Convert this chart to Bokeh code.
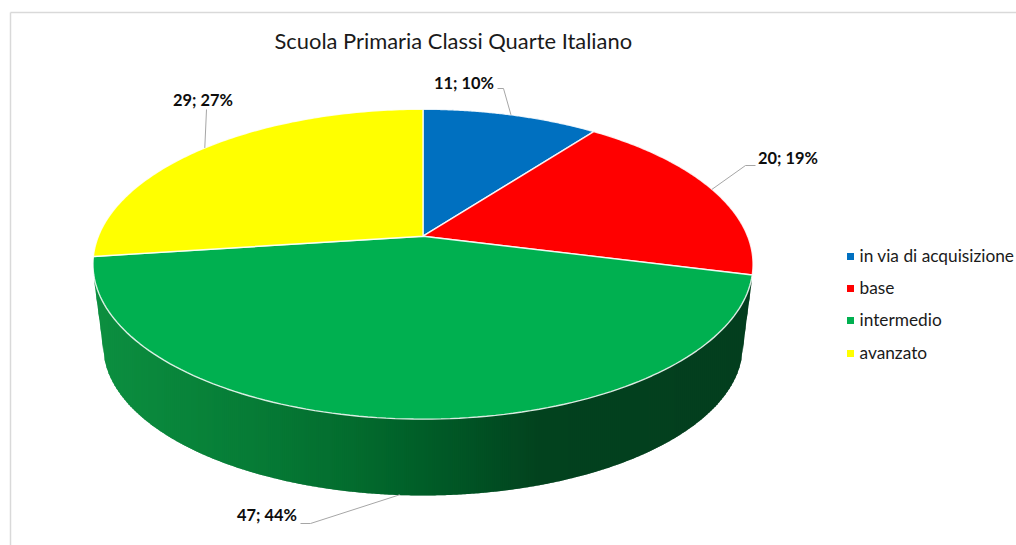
import numpy as np
from bokeh.plotting import figure
from bokeh.models import Range1d
from bokeh.core.properties import value
from bokeh.embed import file_html
from bokeh.resources import INLINE

categories = ["in via di acquisizione", "base", "intermedio", "avanzato"]
counts = [11, 20, 47, 29]
percent_labels = ["10%", "19%", "44%", "27%"]
colors = ["#0070C0", "#FF0000", "#00B050", "#FFFF00"]
title_text = "Scuola Primaria Classi Quarte Italiano"

W, H = 1016, 545
CX, CY = 422.5, 235.7
A, B, K = 149.9, 324.6, 0.1806
DEPTH = 76.0


def project(deg):
    t = np.radians(deg)
    u, v = np.sin(t), np.cos(t)
    w = 1 + K * v
    return CX + B * u / w, CY - A * v / w


p = figure(width=W, height=H, x_range=Range1d(0, W), y_range=Range1d(H, 0),
           output_backend="svg", toolbar_location=None, min_border=0,
           outline_line_color=None, background_fill_color="white", border_fill_color="white")
p.axis.visible = False
p.grid.visible = False

# chart frame
p.segment(x0=[10, 10], y0=[12, 12], x1=[W, 10], y1=[12, H],
          line_color="#d9d9d9", line_width=1.5)

# side wall with a horizontal shading
stops_x = [93, 250, 350, 420, 540, 752]
stops_c = np.array([[12, 143, 64], [6, 124, 54], [3, 108, 46], [0, 94, 40], [2, 66, 30], [3, 62, 30]], float)
TOP_E = (422.5, 263.7, 329.6, 155.0)
LOW_E = (422.5, 345.0, 320.0, 150.0)


def rim(x, e):
    c, m, rx, ry = e
    return m + ry * np.sqrt(np.clip(1 - ((x - c) / rx) ** 2, 0, 1))


def wall_bottom(x):
    if x < 103:
        return 283 + (x - 94) * (350 - 283) / (103 - 94)
    if x > 742:
        return 283 + (751 - x) * (350 - 283) / (751 - 742)
    return rim(x, LOW_E)


xs_w, ys_w, cs_w = [], [], []
edges = np.arange(94, 750, 2.0)
for x0 in edges:
    x1 = x0 + 3
    xx = [x0, x1, x1, x0]
    y_t0, y_t1 = rim(x0, TOP_E), rim(x1, TOP_E)
    y_b0, y_b1 = wall_bottom(x0), wall_bottom(min(x1, 751))
    xs_w.append(xx)
    ys_w.append([y_t0 - 1, y_t1 - 1, y_b1, y_b0])
    rgb = [np.interp(x0, stops_x, stops_c[:, i]) for i in range(3)]
    cs_w.append("#%02x%02x%02x" % tuple(int(round(c)) for c in rgb))
p.patches(xs_w, ys_w, fill_color=cs_w, line_color=None)

# top face
total = sum(counts)
cum = np.cumsum([0] + counts) / total * 360.0
mids = []
for i, col in enumerate(colors):
    angs = np.linspace(cum[i], cum[i + 1], 120)
    px, py = project(angs)
    p.patch(np.r_[CX, px], np.r_[CY, py], fill_color=col,
            line_color="#ffffff", line_width=1.4, line_alpha=0.85)
    mids.append((cum[i] + cum[i + 1]) / 2)

# data labels and leaders
label_pos = [(433.5, 81.5), (757.5, 156.5), (236.5, 513.5), (172.5, 98.5)]
elbows = [[(497, 88), (503, 88)], [(755, 165), (745, 165)], [(300, 523), (310, 523)], [(206, 109)]]
drops = [0, 0, DEPTH, 0]
for i in range(4):
    ax, ay = project(mids[i])
    ex = [e[0] for e in elbows[i]] + [float(ax)]
    ey = [e[1] for e in elbows[i]] + [float(ay) + drops[i]]
    p.line(ex, ey, line_color="#a6a6a6", line_width=1)
    p.text([label_pos[i][0]], [label_pos[i][1]], text=[f"{counts[i]}; {percent_labels[i]}"],
           text_font=value("Lato"), text_font_style="bold", text_font_size="16.4px",
           text_color="#0d0d0d", text_align="left", text_baseline="middle")

# title
p.text([274], [39.5], text=[title_text], text_font=value("Lato"), text_font_size="21.9px",
       text_color="#1a1a1a", text_align="left", text_baseline="middle")

# legend
leg_y = [255, 287, 319, 352]
p.scatter([850] * 4, [256, 288, 320, 353], marker="square", size=7, fill_color=colors, line_color=None)
p.text([859] * 4, leg_y, text=categories, text_font=value("Lato"), text_font_size="17.3px",
       text_color="#1a1a1a", text_align="left", text_baseline="middle")

open("out.html", "w").write(file_html(p, INLINE))
